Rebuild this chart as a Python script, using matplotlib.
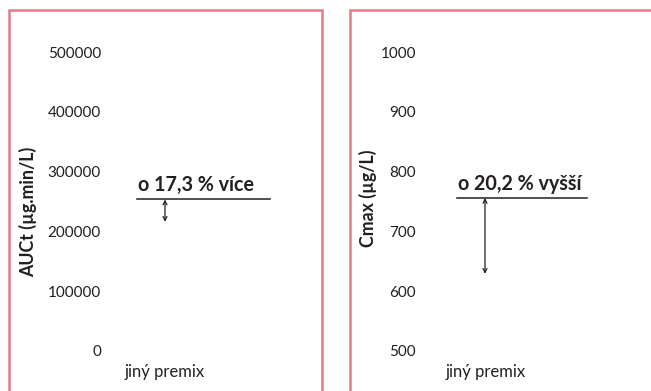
import matplotlib.pyplot as plt
from matplotlib.patches import Rectangle

plt.rcParams['font.family'] = ['Lato', 'DejaVu Sans']

# Category and values for each panel
category = ["jiný premix"]

auc_ticks = [0, 100000, 200000, 300000, 400000, 500000]
auc_low = 216000
auc_high = 253400
auc_label = "o 17,3 % více"

cmax_ticks = [500, 600, 700, 800, 900, 1000]
cmax_low = 629
cmax_high = 756
cmax_label = "o 20,2 % vyšší"

W, H = 651, 391
fig = plt.figure(figsize=(W / 100, H / 100), dpi=100)

frame_color = "#e07d8c"
text_color = "#231f20"
# Panel frames (pixel coordinates converted to figure fractions)
for (x0, x1) in [(9, 322), (350, 660)]:
    fig.patches.append(Rectangle((x0 / W, -0.05), (x1 - x0) / W, (H - 10) / H + 0.05,
                                 transform=fig.transFigure, fill=False,
                                 edgecolor=frame_color, linewidth=1.8))


def panel(left_px, right_px, ticks, low, high, label, ylabel, cat_px, line_px,
          arrow_px, ylabel_px, ylabel_frac):
    ax = fig.add_axes([left_px / W, (H - 351) / H, (right_px - left_px) / W, 299 / H])
    ax.set_xlim(left_px, right_px)
    ax.set_ylim(ticks[0], ticks[-1])
    for s in ax.spines.values():
        s.set_visible(False)
    ax.set_yticks(ticks)
    ax.set_yticklabels([str(t) for t in ticks], fontsize=11, color=text_color)
    ax.tick_params(axis="y", length=0, pad=6.5)
    ax.set_xticks([cat_px])
    ax.set_xticklabels(category, fontsize=12, color=text_color)
    ax.tick_params(axis="x", length=0, pad=9)
    ax.set_ylabel(ylabel, fontsize=12.8, fontweight="bold", color=text_color)
    ax.yaxis.set_label_coords((ylabel_px - left_px) / (right_px - left_px), ylabel_frac)
    ax.patch.set_alpha(0)

    ax.plot(line_px, [high, high], color=text_color, linewidth=1.1)
    ax.annotate("", xy=(arrow_px, low), xytext=(arrow_px, high),
                arrowprops=dict(arrowstyle="<->", color=text_color, lw=0.9,
                                shrinkA=0, shrinkB=0, mutation_scale=7))
    ax.annotate(label, xy=(line_px[0] + 1, high), xytext=(0, 6),
                textcoords="offset points", fontsize=14.2, fontweight="bold",
                color=text_color, ha="left", va="baseline")
    return ax


panel(110, 315, auc_ticks, auc_low, auc_high, auc_label, "AUCt (µg.min/L)",
      cat_px=164.5, line_px=[137, 270], arrow_px=165, ylabel_px=37, ylabel_frac=0.465)
panel(425, 640, cmax_ticks, cmax_low, cmax_high, cmax_label, "Cmax (µg/L)",
      cat_px=486, line_px=[457, 587], arrow_px=485, ylabel_px=377, ylabel_frac=0.51)

fig.savefig("out.png", dpi=100)
